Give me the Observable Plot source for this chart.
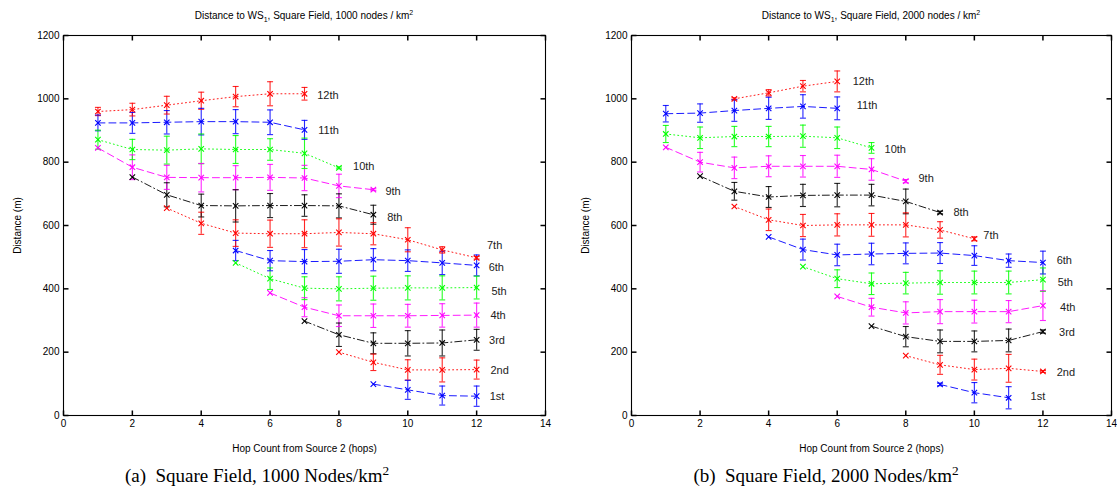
<!DOCTYPE html>
<html><head><meta charset="utf-8">
<script src="https://cdn.jsdelivr.net/npm/d3@7"></script>
<script src="https://cdn.jsdelivr.net/npm/@observablehq/plot@0.6"></script>
<style>
body{margin:0;background:#fff;}
#wrap{position:relative;width:1117px;height:491px;overflow:hidden;background:#fff;}
.panel{position:absolute;top:0;}
.title{position:absolute;font-family:"Liberation Sans",Arial,sans-serif;font-size:10px;text-align:center;white-space:nowrap;color:#000;}
.caption{position:absolute;font-family:"Liberation Serif","Times New Roman",serif;font-size:19px;text-align:center;white-space:nowrap;width:400px;color:#000;}
sub,sup{font-size:70%;line-height:0;}
</style></head><body><div id="wrap"></div>
<script>
// ---------- shared ----------
const xTicks = [0, 2, 4, 6, 8, 10, 12, 14];
const yTicks = [0, 200, 400, 600, 800, 1000, 1200];
const seriesNames = ["1st","2nd","3rd","4th","5th","6th","7th","8th","9th","10th","11th","12th"];
const seriesColors = ["#0000ff","#ff0000","#000000","#ff00ff","#00ff00","#0000ff","#ff0000","#000000","#ff00ff","#00ff00","#0000ff","#ff0000"];
const seriesDash = ["7,4","1,3","7,3,1,3","7,4","1,3","7,4","1,3","7,3,1,3","7,4","1,3","7,4","1,3"];

// ---------- (a) 1000 nodes / km2 ----------
const startHopA = [9, 8, 7, 6, 5, 5, 3, 2, 1, 1, 1, 1];
const meanA = [
  [99, 81, 63, 61],
  [200, 168, 144, 144, 145],
  [298, 255, 228, 228, 229, 239],
  [387, 342, 315, 315, 315, 316, 317],
  [482, 432, 402, 400, 402, 403, 403, 404],
  [521, 489, 486, 487, 492, 489, 482, 474],
  [655, 607, 576, 574, 574, 578, 574, 555, 523, 498],
  [753, 697, 663, 662, 663, 663, 662, 634],
  [845, 784, 752, 751, 751, 752, 750, 725, 713],
  [871, 840, 838, 842, 840, 840, 828, 782],
  [924, 924, 926, 928, 928, 926, 902],
  [960, 966, 980, 994, 1007, 1016, 1016]
];
const errA = [
  [0, 30, 30, 32],
  [0, 26, 32, 38, 30],
  [0, 37, 33, 40, 41, 33],
  [0, 30, 34, 37, 36, 37, 38],
  [0, 34, 36, 38, 38, 38, 38, 36],
  [32, 32, 38, 38, 35, 34, 37, 33],
  [0, 35, 42, 43, 44, 43, 35, 38, 10, 4],
  [0, 38, 36, 51, 38, 34, 38, 30],
  [0, 39, 38, 45, 38, 41, 40, 37, 3],
  [30, 32, 44, 47, 44, 34, 48, 3],
  [25, 33, 37, 42, 38, 39, 30],
  [13, 20, 28, 27, 32, 38, 20]
];
const labelHopA = [12.38, 12.4, 12.36, 12.4, 12.43, 12.35, 12.3, 9.4, 9.35, 8.41, 7.4, 7.37];
const labelDistA = [61, 142, 236, 316, 392, 466, 537, 624, 707, 786, 900, 1011];

// ---------- (b) 2000 nodes / km2 ----------
const startHopB = [9, 8, 7, 6, 5, 4, 3, 2, 1, 1, 1, 3];
const meanB = [
  [98, 72, 56],
  [189, 160, 145, 149, 139],
  [282, 249, 234, 234, 237, 265],
  [376, 342, 324, 328, 328, 328, 347],
  [470, 432, 416, 418, 420, 420, 420, 429],
  [564, 524, 507, 510, 512, 513, 505, 489, 483],
  [660, 618, 600, 602, 602, 602, 586, 558],
  [756, 708, 690, 695, 696, 696, 676, 641],
  [847, 800, 782, 787, 787, 787, 777, 740],
  [889, 877, 881, 881, 882, 877, 845],
  [953, 955, 963, 970, 976, 970],
  [1000, 1019, 1040, 1055]
];
const errB = [
  [4, 32, 35],
  [0, 30, 33, 44, 3],
  [0, 32, 36, 33, 36, 5],
  [0, 28, 35, 38, 36, 35, 47],
  [0, 28, 34, 34, 37, 36, 36, 37],
  [0, 33, 34, 34, 33, 33, 31, 21, 36],
  [0, 34, 35, 35, 36, 38, 26, 6],
  [0, 28, 33, 35, 37, 34, 39, 4],
  [0, 31, 34, 33, 34, 35, 34, 5],
  [27, 34, 32, 32, 35, 34, 17],
  [26, 29, 34, 35, 37, 36],
  [3, 10, 18, 33]
];
const labelHopB = [11.64, 12.4, 12.47, 12.5, 12.43, 12.4, 10.26, 9.39, 8.37, 7.38, 6.57, 6.45];
const labelDistB = [61, 137, 261, 340, 419, 489, 567, 642, 750, 839, 979, 1055];

// ---------- drawing ----------
const tickSym = (dx, dy) => ({draw(ctx) { ctx.moveTo(0, 0); ctx.lineTo(dx, dy); }});
const capSym = {draw(ctx) { ctx.moveTo(-3, 0); ctx.lineTo(3, 0); }};

function makePanel(start, mean, err, labHop, labDist, width, ml, mr) {
  const rows = [];
  seriesNames.forEach((name, i) => mean[i].forEach((m, j) =>
    rows.push({s: i, hop: start[i] + j, m: m, e: err[i][j]})));
  const marks = [Plot.frame({stroke: "black", strokeWidth: 1.1})];
  // inward ticks on all four sides
  marks.push(Plot.dot(xTicks, {x: d => d, frameAnchor: "bottom", symbol: tickSym(0, -5), stroke: "black", fill: "none"}));
  marks.push(Plot.dot(xTicks, {x: d => d, frameAnchor: "top", symbol: tickSym(0, 5), stroke: "black", fill: "none"}));
  marks.push(Plot.dot(yTicks, {y: d => d, frameAnchor: "left", symbol: tickSym(5, 0), stroke: "black", fill: "none"}));
  marks.push(Plot.dot(yTicks, {y: d => d, frameAnchor: "right", symbol: tickSym(-5, 0), stroke: "black", fill: "none"}));
  marks.push(Plot.axisX({ticks: xTicks, tickSize: 0, tickPadding: 4, tickFormat: d => String(d), label: "Hop Count from Source 2 (hops)", labelAnchor: "center", labelArrow: "none", labelOffset: 36}));
  marks.push(Plot.axisY({ticks: yTicks, tickSize: 0, tickPadding: 4, tickFormat: d => String(d), label: "Distance (m)", labelAnchor: "center", labelArrow: "none", labelOffset: 50}));
  // lines
  seriesNames.forEach((name, i) => {
    marks.push(Plot.line(rows.filter(r => r.s === i), {x: "hop", y: "m", stroke: seriesColors[i], strokeWidth: 0.9, strokeDasharray: seriesDash[i]}));
  });
  const eb = rows.filter(r => r.e > 0);
  marks.push(Plot.ruleX(eb, {x: "hop", y1: r => r.m - r.e, y2: r => r.m + r.e, stroke: r => seriesColors[r.s], strokeWidth: 1.1, strokeOpacity: 0.85}));
  marks.push(Plot.dot(eb, {x: "hop", y: r => r.m - r.e, symbol: capSym, stroke: r => seriesColors[r.s], fill: "none", strokeWidth: 1.1, strokeOpacity: 0.85}));
  marks.push(Plot.dot(eb, {x: "hop", y: r => r.m + r.e, symbol: capSym, stroke: r => seriesColors[r.s], fill: "none", strokeWidth: 1.1, strokeOpacity: 0.85}));
  marks.push(Plot.dot(rows, {x: "hop", y: "m", symbol: "times", r: 2.6, stroke: r => seriesColors[r.s], strokeWidth: 1.1}));
  marks.push(Plot.text(seriesNames, {x: (d, i) => labHop[i], y: (d, i) => labDist[i], text: d => d, textAnchor: "start", fontSize: 11, fill: "#222"}));
  return Plot.plot({
    width: width, height: 491,
    marginTop: 35, marginBottom: 76, marginLeft: ml, marginRight: mr,
    style: {fontFamily: "'Liberation Sans', Arial, sans-serif", fontSize: "10px", color: "#000", background: "transparent"},
    x: {domain: [0, 14]},
    y: {domain: [0, 1200]},
    color: {type: "identity"},
    marks: marks
  });
}

const wrap = document.getElementById("wrap");
function addPanel(left, svg) {
  const d = document.createElement("div");
  d.className = "panel"; d.style.left = left + "px";
  d.appendChild(svg); wrap.appendChild(d);
}
addPanel(0, makePanel(startHopA, meanA, errA, labelHopA, labelDistA, 558, 63, 13));
addPanel(558, makePanel(startHopB, meanB, errB, labelHopB, labelDistB, 559, 73, 6));

function addHTML(cls, html, left, top, width) {
  const d = document.createElement("div");
  d.className = cls; d.innerHTML = html;
  d.style.left = left + "px"; d.style.top = top + "px"; d.style.width = width + "px";
  wrap.appendChild(d);
}
addHTML("title", "Distance to WS<sub>1</sub>, Square Field, 1000 nodes / km<sup>2</sup>", 63, 10, 482);
addHTML("title", "Distance to WS<sub>1</sub>, Square Field, 2000 nodes / km<sup>2</sup>", 631, 10, 480);
addHTML("caption", "(a)&nbsp; Square Field, 1000 Nodes/km<sup>2</sup>", 57, 465, 400);
addHTML("caption", "(b)&nbsp; Square Field, 2000 Nodes/km<sup>2</sup>", 626, 465, 400);
</script></body></html>
